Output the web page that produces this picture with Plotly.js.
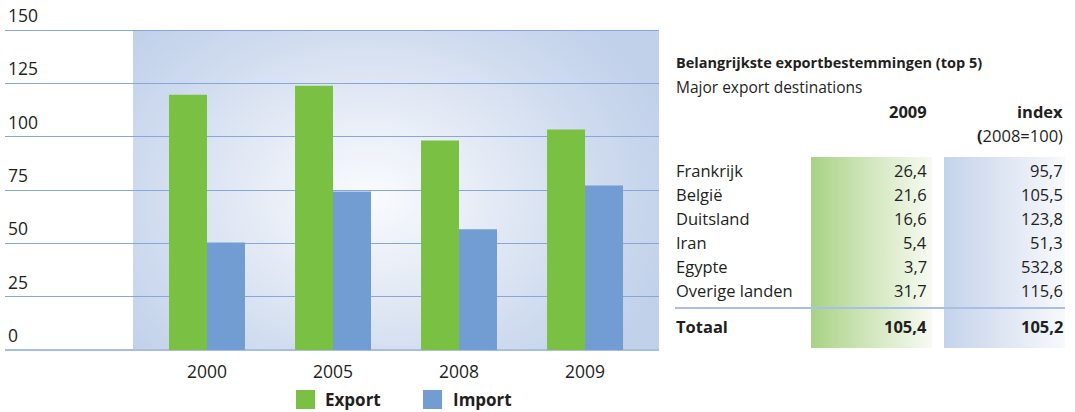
<!DOCTYPE html>
<html>
<head>
<meta charset="utf-8">
<script src="https://cdn.plot.ly/plotly-3.0.1.min.js"></script>
<style>
  html, body { margin: 0; padding: 0; background: #ffffff; }
  #wrap { position: relative; width: 1075px; height: 412px; overflow: hidden; }
  .bg { position: absolute; }
  #panel { left: 133px; top: 30px; width: 526px; height: 320px;
    background: radial-gradient(ellipse 60% 75% at 45% 52%, #f9fbfe 0%, #e4eaf5 40%, #d0dcef 70%, #c1d1ea 100%); }
  #gcol { left: 811px; top: 157px; width: 121px; height: 191px;
    background: linear-gradient(to right, #a9d285 0%, #cfe5b9 45%, #f7faf2 100%); }
  #bcol { left: 944px; top: 157px; width: 121px; height: 191px;
    background: linear-gradient(to right, #c4d3ec 0%, #dfe6f3 50%, #f7f9fc 100%); }
  #chart { position: absolute; left: 0; top: 0; width: 1075px; height: 412px; }
</style>
</head>
<body>
<div id="wrap">
  <div class="bg" id="panel"></div>
  <div class="bg" id="gcol"></div>
  <div class="bg" id="bcol"></div>
  <div id="chart"></div>
</div>
<script>
// ---- data ----
const years = ['2000', '2005', '2008', '2009'];
const exportValues = [119.8, 124.0, 98.3, 103.5];
const importValues = [50.4, 74.4, 56.6, 77.2];
const yTickValues = [0, 25, 50, 75, 100, 125, 150];
const seriesNames = ['Export', 'Import'];

const tableTitle = 'Belangrijkste exportbestemmingen (top 5)';
const tableSubtitle = 'Major export destinations';
const colHeader1 = '2009';
const colHeader2 = 'index';
const colHeader2b = '(2008=100)';
const countries = ['Frankrijk', 'België', 'Duitsland', 'Iran', 'Egypte', 'Overige landen'];
const export2009 = ['26,4', '21,6', '16,6', '5,4', '3,7', '31,7'];
const index2008 = ['95,7', '105,5', '123,8', '51,3', '532,8', '115,6'];
const totalLabel = 'Totaal';
const totalExport = '105,4';
const totalIndex = '105,2';

// ---- layout helpers ----
const W = 1075, H = 412;
const M = {l: 5, r: 416, t: 26, b: 62};
const PW = W - M.l - M.r, PH = H - M.t - M.b;
const px = x => (x - M.l) / PW;
const py = y => (M.t + PH - y) / PH;

const FONT = 'Open Sans, Noto Sans, sans-serif';
const TXT = '#231f20';
const GREEN = '#7ac143';
const BLUE = '#729dd2';

const traces = [
  {type: 'bar', name: seriesNames[0], x: years, y: exportValues,
   marker: {color: GREEN, line: {width: 0}}, hoverinfo: 'x+y+name'},
  {type: 'bar', name: seriesNames[1], x: years, y: importValues,
   marker: {color: BLUE, line: {width: 0}}, hoverinfo: 'x+y+name'}
];

const annotations = [];
const shapes = [];

function txt(x, y, text, opts) {
  opts = opts || {};
  annotations.push(Object.assign({
    xref: 'paper', yref: 'paper', x: px(x), y: py(y), text: text,
    showarrow: false, xanchor: 'left', yanchor: 'middle',
    font: {family: FONT, size: 16.5, color: TXT}
  }, opts));
}

// legend (custom)
shapes.push({type: 'rect', xref: 'paper', yref: 'paper', x0: px(296), x1: px(315), y0: py(390), y1: py(409), fillcolor: GREEN, line: {width: 0}});
shapes.push({type: 'rect', xref: 'paper', yref: 'paper', x0: px(423), x1: px(442), y0: py(390), y1: py(409), fillcolor: BLUE, line: {width: 0}});
txt(324, 412, '<b>' + seriesNames[0] + '</b>', {yanchor: 'bottom', borderpad: 0, font: {family: FONT, size: 17, color: TXT}});
txt(452, 412, '<b>' + seriesNames[1] + '</b>', {yanchor: 'bottom', borderpad: 0, font: {family: FONT, size: 17, color: TXT}});

// table
txt(674, 63, '<b>' + tableTitle + '</b>', {font: {family: FONT, size: 14.5, color: TXT}});
txt(674, 87, tableSubtitle, {font: {family: FONT, size: 15.5, color: TXT}});
txt(929, 111, '<b>' + colHeader1 + '</b>', {xanchor: 'right'});
txt(1065, 111, '<b>' + colHeader2 + '</b>', {xanchor: 'right'});
txt(1065, 135, '<b>(</b>' + colHeader2b.slice(1), {xanchor: 'right'});
const rowY = [170, 194, 218, 242, 266, 290];
countries.forEach((c, i) => {
  txt(674, rowY[i], c);
  txt(929, rowY[i], export2009[i], {xanchor: 'right'});
  txt(1065, rowY[i], index2008[i], {xanchor: 'right'});
});
shapes.push({type: 'line', xref: 'paper', yref: 'paper', x0: px(675), x1: px(1065), y0: py(308), y1: py(308), line: {color: '#a8c0e5', width: 2}});
txt(674, 326, '<b>' + totalLabel + '</b>');
txt(929, 326, '<b>' + totalExport + '</b>', {xanchor: 'right'});
txt(1065, 326, '<b>' + totalIndex + '</b>', {xanchor: 'right'});

const layout = {
  width: W, height: H,
  margin: M,
  paper_bgcolor: 'rgba(0,0,0,0)',
  plot_bgcolor: 'rgba(0,0,0,0)',
  showlegend: false,
  barmode: 'group',
  bargap: 0.397,
  bargroupgap: 0,
  font: {family: FONT, color: TXT},
  xaxis: {
    type: 'category', range: [-1.603, 3.587], fixedrange: true,
    showgrid: false, zeroline: false, showline: false, ticks: '',
    tickfont: {family: FONT, size: 17.5, color: TXT},
    ticklabelstandoff: 9
  },
  yaxis: {
    range: [0, 152], fixedrange: true,
    tickvals: yTickValues, ticktext: yTickValues.map(String),
    showgrid: true, gridcolor: '#86a7da', gridwidth: 1,
    zeroline: true, zerolinecolor: '#a7bee4', zerolinewidth: 2,
    showline: false, ticks: '',
    ticklabelposition: 'inside top',
    ticklabeloverflow: 'allow',
    ticklabelshift: -2,
    tickfont: {family: FONT, size: 17.5, color: TXT}
  },
  annotations: annotations,
  shapes: shapes
};

Plotly.newPlot('chart', traces, layout, {displayModeBar: false, staticPlot: true});
</script>
</body>
</html>
